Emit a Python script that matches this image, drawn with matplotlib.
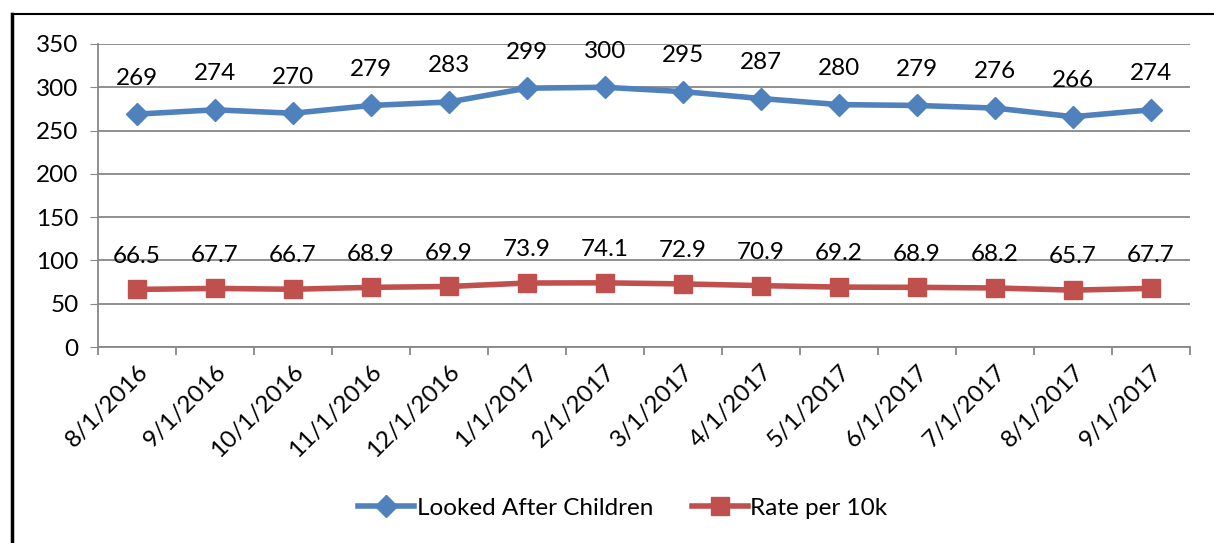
import matplotlib
matplotlib.use("Agg")
import matplotlib.pyplot as plt
from matplotlib.lines import Line2D

plt.rcParams["font.family"] = ["Lato", "DejaVu Sans"]

dates = ["8/1/2016", "9/1/2016", "10/1/2016", "11/1/2016", "12/1/2016", "1/1/2017",
         "2/1/2017", "3/1/2017", "4/1/2017", "5/1/2017", "6/1/2017", "7/1/2017",
         "8/1/2017", "9/1/2017"]
looked_after = [269, 274, 270, 279, 283, 299, 300, 295, 287, 280, 279, 276, 266, 274]
rate_per_10k = [66.5, 67.7, 66.7, 68.9, 69.9, 73.9, 74.1, 72.9, 70.9, 69.2, 68.9, 68.2, 65.7, 67.7]

BLUE = "#4f81bd"
RED = "#c0504d"
GRID = "#878787"
FS = 17.5

fig = plt.figure(figsize=(12.14, 5.43), dpi=100)
ax = fig.add_axes([98 / 1214, 1 - 347 / 543, 1092 / 1214, 303 / 543])

x = list(range(len(dates)))
ax.plot(x, looked_after, color=BLUE, lw=4, marker="D", ms=11, label="Looked After Children")
ax.plot(x, rate_per_10k, color=RED, lw=4, marker="s", ms=13, label="Rate per 10k")

for xi, v in zip(x, looked_after):
    ax.annotate(f"{v}", (xi, v), xytext=(0, 26), textcoords="offset points",
                ha="center", va="center", fontsize=FS)
for xi, v in zip(x, rate_per_10k):
    ax.annotate(f"{v}", (xi, v), xytext=(0, 24), textcoords="offset points",
                ha="center", va="center", fontsize=FS)

ax.set_xlim(-0.5, len(dates) - 0.5)
ax.set_ylim(0, 350)
ax.set_yticks(range(0, 351, 50))
ax.tick_params(axis="y", labelsize=FS, length=6, color=GRID, pad=8)
ax.yaxis.grid(True, color=GRID, lw=1.3)
ax.set_axisbelow(True)

# category ticks sit between the points, labels under each point
ax.set_xticks([i - 0.5 for i in range(len(dates) + 1)])
ax.set_xticklabels([])
ax.set_xticks(x, minor=True)
ax.set_xticklabels(dates, minor=True, rotation=45, ha="right", rotation_mode="anchor", fontsize=FS)
ax.tick_params(axis="x", which="major", length=6, color=GRID, width=1.3)
ax.tick_params(axis="x", which="minor", length=0, pad=10)

for s in ["top", "right"]:
    ax.spines[s].set_visible(False)
for s in ["left", "bottom"]:
    ax.spines[s].set_color(GRID)
    ax.spines[s].set_linewidth(1.3)

fig.legend(loc="center", bbox_to_anchor=(0.513, 1 - 508 / 543), ncol=2, frameon=False,
           fontsize=FS, handlelength=2.3, columnspacing=1.6, handletextpad=0.1)

# outer chart border (left + top visible)
fig.add_artist(Line2D([12 / 1214, 12 / 1214], [0, 1 - 14 / 543], color="black", lw=2.5))
fig.add_artist(Line2D([12 / 1214, 1], [1 - 14 / 543, 1 - 14 / 543], color="black", lw=1.5))

fig.savefig("out.png", dpi=100)
